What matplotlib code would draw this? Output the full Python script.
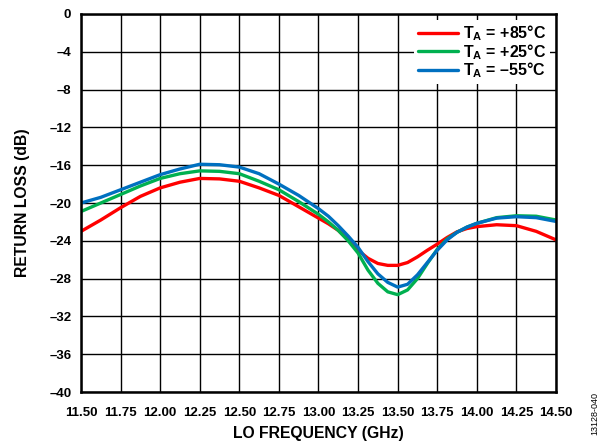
import matplotlib
matplotlib.use("Agg")
import matplotlib.pyplot as plt
import numpy as np

plt.rcParams['font.family'] = ['Liberation Sans', 'DejaVu Sans']
plt.rcParams['font.weight'] = 'bold'
plt.rcParams['mathtext.fontset'] = 'custom'
plt.rcParams['mathtext.rm'] = 'Liberation Sans:bold'
plt.rcParams['mathtext.bf'] = 'Liberation Sans:bold'
plt.rcParams['mathtext.it'] = 'Liberation Sans:bold'

freq = [11.5, 11.625, 11.75, 11.875, 12.0, 12.125, 12.25, 12.375, 12.5, 12.625,
        12.75, 12.875, 13.0, 13.0625, 13.125, 13.1875, 13.25, 13.3125, 13.375, 13.4375,
        13.5, 13.5625, 13.625, 13.6875, 13.75, 13.8125, 13.875, 13.9375,
        14.0, 14.125, 14.25, 14.375, 14.5]
rl_85 = [-23.0, -21.8, -20.5, -19.3, -18.4, -17.8, -17.4, -17.45, -17.7, -18.4,
         -19.2, -20.4, -21.6, -22.2, -22.9, -23.9, -25.0, -25.85, -26.4, -26.6,
         -26.6, -26.3, -25.7, -25.0, -24.35, -23.65, -23.05, -22.7,
         -22.5, -22.3, -22.4, -23.0, -23.9]
rl_25 = [-20.9, -20.0, -19.1, -18.2, -17.4, -16.9, -16.6, -16.65, -16.9, -17.7,
         -18.6, -19.85, -21.2, -22.0, -22.9, -24.0, -25.3, -27.1, -28.5, -29.4,
         -29.7, -29.2, -28.0, -26.4, -24.9, -23.8, -23.1, -22.55,
         -22.15, -21.55, -21.35, -21.4, -21.8]
rl_m55 = [-20.0, -19.4, -18.6, -17.8, -17.0, -16.4, -15.9, -15.95, -16.2, -16.9,
          -18.0, -19.2, -20.6, -21.4, -22.4, -23.5, -24.7, -26.2, -27.5, -28.4,
          -28.9, -28.6, -27.6, -26.3, -25.0, -23.9, -23.1, -22.55,
          -22.15, -21.6, -21.45, -21.55, -21.95]
labels = ["T$_{A}$ = +85°C", "T$_{A}$ = +25°C", "T$_{A}$ = –55°C"]
colors = ["#FF0000", "#00B050", "#0070C0"]

x_ticks = [11.5, 11.75, 12.0, 12.25, 12.5, 12.75, 13.0, 13.25, 13.5, 13.75, 14.0, 14.25, 14.5]
y_ticks = [0, -4, -8, -12, -16, -20, -24, -28, -32, -36, -40]

fig = plt.figure(figsize=(6.02, 4.44), dpi=100)
ax = fig.add_axes([81/602, 1-392/444, (556-81)/602, (392-14)/444])

for y, lab, c in zip([rl_85, rl_25, rl_m55], labels, colors):
    ax.plot(freq, y, color=c, lw=2.4, label=lab, solid_capstyle='round', solid_joinstyle='round')

ax.set_xlim(11.5, 14.5)
ax.set_ylim(-40, 0)
ax.set_xticks(x_ticks)
ax.set_xticklabels([f"{v:.2f}" for v in x_ticks])
ax.set_yticks(y_ticks)
ax.set_yticklabels([("–" if v < 0 else "") + str(abs(v)) for v in y_ticks])
ax.tick_params(length=0, labelsize=9.5)
ax.tick_params(axis='x', pad=10.5)
ax.tick_params(axis='y', pad=7)
for t in ax.get_xticklabels() + ax.get_yticklabels():
    t.set_fontweight('bold')
ax.grid(True, color='black', lw=1.0)
ax.set_axisbelow(True)
for s in ax.spines.values():
    s.set_linewidth(1.8)
    s.set_zorder(5)

ax.set_xlabel("LO FREQUENCY (GHz)", fontsize=11.3, fontweight='bold', labelpad=5)
ax.set_ylabel("RETURN LOSS (dB)", fontsize=11.3, fontweight='bold', labelpad=14)

leg = ax.legend(loc='upper right', frameon=True, fancybox=False, edgecolor='none',
                framealpha=1, fontsize=11.5, handlelength=2.5, handletextpad=0.3,
                labelspacing=-0.08, borderpad=0.25, borderaxespad=0.35)
leg.get_frame().set_linewidth(0)
for t in leg.get_texts():
    t.set_fontweight('bold')

fig.text(595/602, 1-413/444, "13128-040", rotation=90, fontsize=6.5, fontweight='normal',
         ha='center', va='center')

fig.savefig("out.png", dpi=100)
